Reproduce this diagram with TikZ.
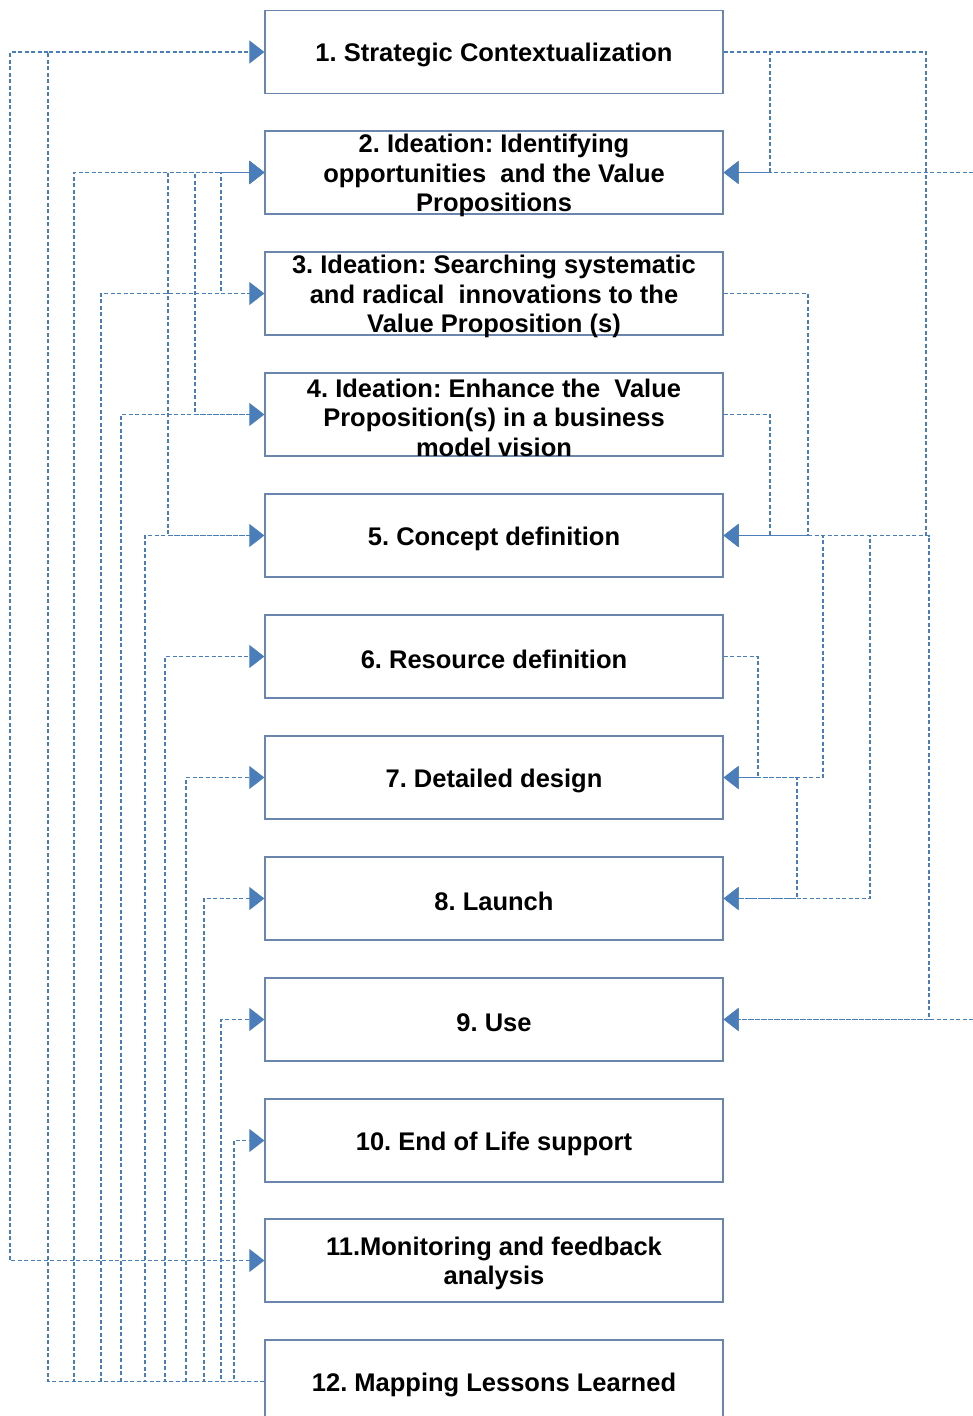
\documentclass[tikz,border=0pt]{standalone}
\usepackage{fontspec}
\setmainfont{Liberation Sans}
\usetikzlibrary{arrows.meta}
\definecolor{lineblue}{HTML}{4A7EBB}
\definecolor{boxedge}{HTML}{6A86AD}
\frenchspacing
\begin{document}
\begin{tikzpicture}[x=1pt,y=-1pt,
  stage/.style={draw=boxedge, line width=1.3pt, minimum width=458pt,
    minimum height=83pt, inner sep=0pt,
    label={[align=center, yshift=-3pt,
      font=\fontsize{25.5}{29.5}\selectfont\bfseries]center:{#1}}},
  link/.style={draw=lineblue, line width=1.1pt, dash pattern=on 4pt off 2.5pt},
  tip/.style={-{Triangle[length=15pt,width=23pt,fill=lineblue]}}
]
\useasboundingbox (0,0) rectangle (973,1416);

% process stages
\node[stage={1. Strategic Contextualization}] (b1) at (494,52) {};
\node[stage={2. Ideation: Identifying\\opportunities\ \ and the Value\\Propositions}] (b2) at (494,172.5) {};
\node[stage={3. Ideation: Searching systematic\\and radical\ \ innovations to the\\Value Proposition (s)}] (b3) at (494,293.5) {};
\node[stage={4. Ideation: Enhance the\ \ Value\\Proposition(s) in a business\\model vision}] (b4) at (494,414.5) {};
\node[stage={5. Concept definition}] (b5) at (494,535.5) {};
\node[stage={6. Resource definition}] (b6) at (494,656.5) {};
\node[stage={7. Detailed design}] (b7) at (494,777.5) {};
\node[stage={8. Launch}] (b8) at (494,898.5) {};
\node[stage={9. Use}] (b9) at (494,1019.5) {};
\node[stage={10. End of Life support}] (b10) at (494,1140.5) {};
\node[stage={11.Monitoring and feedback\\analysis}] (b11) at (494,1260.5) {};
\node[stage={12. Mapping Lessons Learned}] (b12) at (494,1381.5) {};

% routing columns
\foreach \x in {10,48,74,101,121,145,165,168,186,195,204,221,234,
                758,770,797,808,823,870,926,929,973}
  \coordinate (c\x) at (\x,0);

% feedback from stage 12 to every earlier stage
\draw[link,tip] (b12.west) -- (b12.west -| c48)  |- (b1.west);
\draw[link,tip] (b12.west) -- (b12.west -| c74)  |- (b2.west);
\draw[link,tip] (b12.west) -- (b12.west -| c101) |- (b3.west);
\draw[link,tip] (b12.west) -- (b12.west -| c121) |- (b4.west);
\draw[link,tip] (b12.west) -- (b12.west -| c145) |- (b5.west);
\draw[link,tip] (b12.west) -- (b12.west -| c165) |- (b6.west);
\draw[link,tip] (b12.west) -- (b12.west -| c186) |- (b7.west);
\draw[link,tip] (b12.west) -- (b12.west -| c204) |- (b8.west);
\draw[link,tip] (b12.west) -- (b12.west -| c221) |- (b9.west);
\draw[link,tip] (b12.west) -- (b12.west -| c234) |- (b10.west);

% stage 1 to monitoring
\draw[link,tip] (b1.west -| c48) -- (b1.west -| c10) |- (b11.west);

% ideation loops back to stage 2
\draw[link,tip] (b3.west) -- (b3.west -| c221) |- (b2.west);
\draw[link,tip] (b4.west) -- (b4.west -| c195) |- (b2.west);
\draw[link,tip] (b5.west) -- (b5.west -| c168) |- (b2.west);

% forward links on the right
\draw[link,tip] (b1.east) -- (b1.east -| c770) |- (b2.east);
\draw[link,tip] (b1.east) -- (b1.east -| c926) |- (b5.east);
\draw[link,tip] (b2.east -| c973) -- (b2.east);
\draw[link,tip] (b3.east) -- (b3.east -| c808) |- (b5.east);
\draw[link,tip] (b4.east) -- (b4.east -| c770) |- (b5.east);
\draw[link,tip] (b5.east) -- (b5.east -| c823) |- (b7.east);
\draw[link,tip] (b5.east) -- (b5.east -| c870) |- (b8.east);
\draw[link,tip] (b5.east) -- (b5.east -| c929) |- (b9.east);
\draw[link,tip] (b6.east) -- (b6.east -| c758) |- (b7.east);
\draw[link,tip] (b7.east) -- (b7.east -| c797) |- (b8.east);
\draw[link,tip] (b9.east -| c973) -- (b9.east);
\end{tikzpicture}
\end{document}
